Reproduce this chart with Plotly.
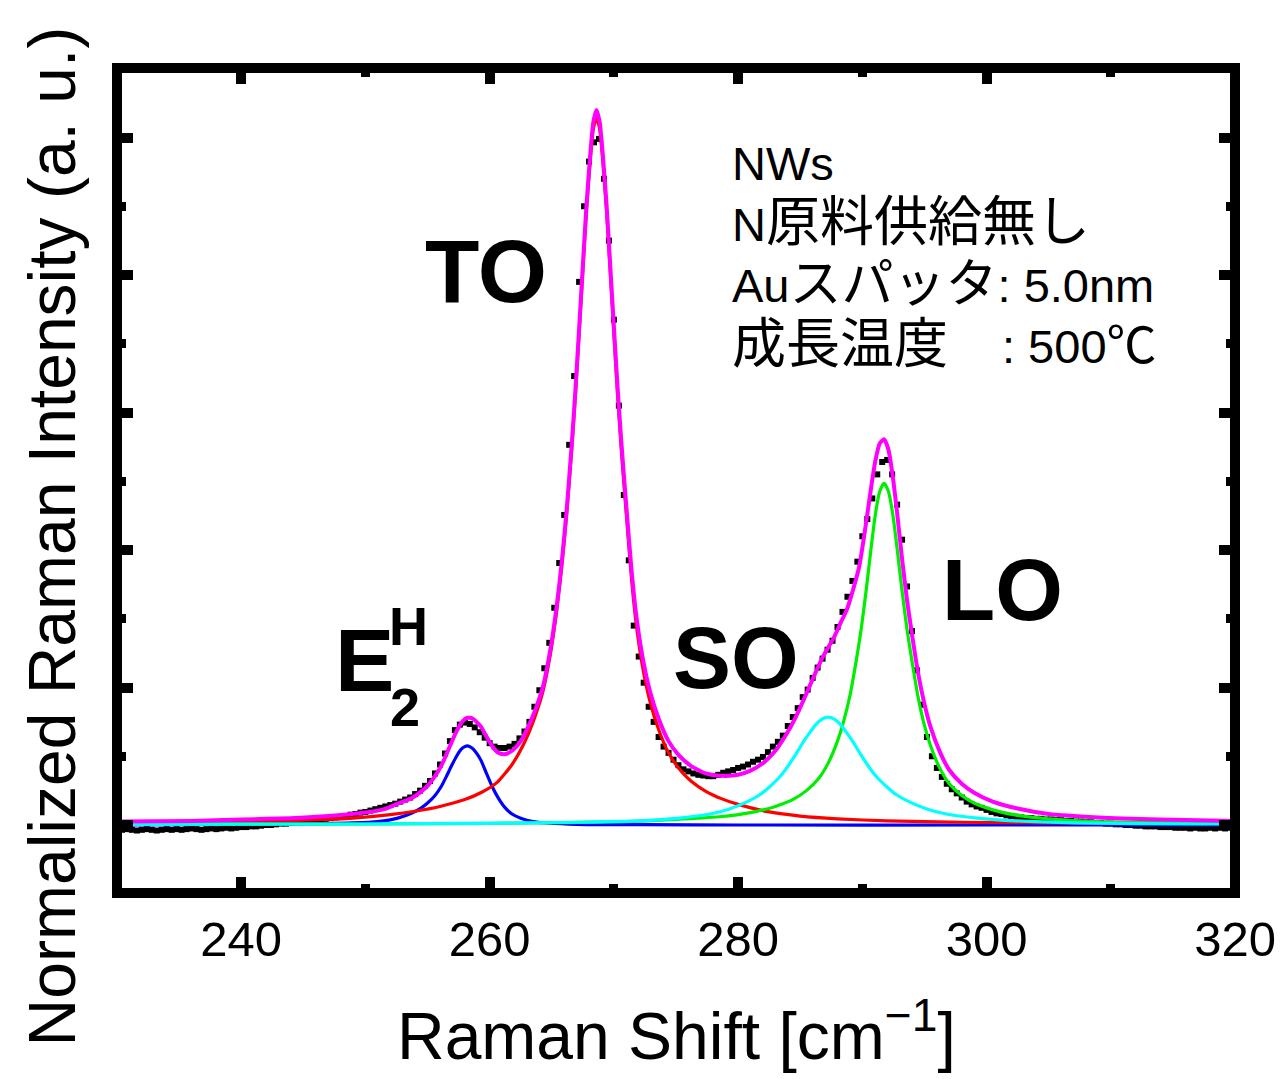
import plotly.graph_objects as go

# ---------------- measured spectrum (black squares) ----------------
SHIFT_START = 230.0
SHIFT_STEP = 0.4
INTENSITY = [
    -0.006, -0.007, -0.006, -0.007, -0.008, -0.007, -0.006, -0.007, -0.008, -0.007,  # 230.0
    -0.006, -0.007, -0.006, -0.007, -0.006, -0.005, -0.006, -0.007, -0.006, -0.005,  # 234.0
    -0.006, -0.005, -0.004, -0.005, -0.004, -0.003, -0.003, -0.002, -0.002, -0.001,  # 238.0
    0.000, 0.000, 0.001, 0.002, 0.002, 0.003, 0.004, 0.004, 0.005, 0.006,            # 242.0
    0.007, 0.008, 0.009, 0.010, 0.011, 0.012, 0.013, 0.015, 0.016, 0.018,            # 246.0
    0.019, 0.021, 0.023, 0.025, 0.027, 0.029, 0.031, 0.034, 0.037, 0.040,            # 250.0
    0.045, 0.050, 0.057, 0.064, 0.075, 0.088, 0.104, 0.122, 0.138, 0.146,            # 254.0
    0.149, 0.147, 0.142, 0.135, 0.127, 0.119, 0.114, 0.112, 0.112, 0.114,            # 258.0
    0.118, 0.126, 0.136, 0.150, 0.172, 0.196, 0.228, 0.265, 0.316, 0.381,            # 262.0
    0.451, 0.553, 0.653, 0.790, 0.900, 0.965, 0.993, 0.998, 0.940, 0.850,            # 266.0
    0.735, 0.610, 0.480, 0.385, 0.290, 0.245, 0.207, 0.172, 0.150, 0.128,            # 270.0
    0.114, 0.105, 0.095, 0.087, 0.081, 0.078, 0.075, 0.073, 0.072, 0.071,            # 274.0
    0.071, 0.073, 0.076, 0.078, 0.080, 0.083, 0.085, 0.088, 0.092, 0.095,            # 278.0
    0.099, 0.106, 0.114, 0.121, 0.130, 0.144, 0.157, 0.170, 0.186, 0.197,            # 282.0
    0.214, 0.229, 0.242, 0.255, 0.268, 0.288, 0.310, 0.332, 0.355, 0.383,            # 286.0
    0.420, 0.445, 0.475, 0.510, 0.528, 0.531, 0.510, 0.466, 0.415, 0.347,            # 290.0
    0.282, 0.225, 0.175, 0.128, 0.100, 0.083, 0.070, 0.060, 0.052, 0.046,            # 294.0
    0.040, 0.034, 0.030, 0.027, 0.025, 0.022, 0.019, 0.017, 0.016, 0.014,            # 298.0
    0.013, 0.012, 0.011, 0.010, 0.010, 0.009, 0.009, 0.008, 0.008, 0.007,            # 302.0
    0.007, 0.006, 0.006, 0.005, 0.005, 0.004, 0.004, 0.003, 0.003, 0.002,            # 306.0
    0.002, 0.001, 0.001, 0.000, 0.000, -0.001, -0.001, -0.002, -0.002, -0.002,       # 310.0
    -0.003, -0.003, -0.003, -0.004, -0.004, -0.004, -0.005, -0.004, -0.005, -0.005,  # 314.0
    -0.004, -0.005, -0.004, -0.005, -0.004, -0.004,                                  # 318.0
]
RAMAN_SHIFT = [round(SHIFT_START + SHIFT_STEP * i, 1) for i in range(len(INTENSITY))]

# ---------------- fitted components ----------------
E2H_X = [230, 240, 246, 249, 251, 252.6, 253.7, 254.5, 255.0, 255.6, 256.1, 256.5, 256.9, 257.3, 257.7,
         258.0, 258.2, 258.4, 258.7, 259.0, 259.3, 259.7, 260.2, 260.7, 261.2, 261.8, 262.5, 263.5,
         264.6, 267, 272, 280, 300, 320]
E2H_Y = [0.000, 0.001, 0.002, 0.003, 0.005, 0.010, 0.017, 0.025, 0.032, 0.043, 0.056, 0.070, 0.085,
         0.099, 0.110, 0.114, 0.115, 0.114, 0.110, 0.103, 0.094, 0.077, 0.056, 0.039, 0.026, 0.016,
         0.010, 0.005, 0.003, 0.001, 0.0005, 0.000, 0.000, 0.000]

TO_X = [230, 240, 245, 249, 252, 254, 256, 258, 259.4, 260.6, 261.8, 262.8, 263.6, 264.3, 264.9,
        265.4, 265.8, 266.2, 266.6, 266.9, 267.2, 267.5, 267.8, 268.1, 268.35, 268.6, 268.85, 269.1,
        269.4, 269.7, 270.0, 270.3, 270.6, 271.0, 271.4, 271.8, 272.3, 272.9, 273.6, 274.4, 275.2,
        276.2, 277.4, 278.7, 280, 282.5, 285, 288, 292, 298, 305, 320]
TO_Y = [0.0025, 0.0045, 0.007, 0.010, 0.015, 0.020, 0.027, 0.037, 0.048, 0.062, 0.088, 0.120, 0.155,
        0.195, 0.250, 0.312, 0.375, 0.452, 0.545, 0.625, 0.714, 0.806, 0.895, 0.967, 1.013, 1.028,
        1.013, 0.967, 0.895, 0.806, 0.714, 0.625, 0.545, 0.452, 0.362, 0.292, 0.231, 0.180, 0.139,
        0.105, 0.083, 0.064, 0.049, 0.038, 0.030, 0.019, 0.013, 0.009, 0.006, 0.004, 0.003, 0.002]

SO_X = [230, 250, 260, 267, 272, 275.25, 277.75, 279.25, 280.75, 281.75, 282.5, 283.25, 283.75,
        284.25, 284.75, 285.25, 285.75, 286.25, 286.75, 287.25, 287.75, 288.25, 288.75, 289.25,
        289.75, 290.25, 290.75, 291.25, 292.0, 292.75, 293.75, 295.25, 296.75, 299.25, 302.25,
        307.25, 317.25, 320]
SO_Y = [0.001, 0.0015, 0.0025, 0.004, 0.006, 0.010, 0.016, 0.023, 0.034, 0.044, 0.055, 0.068, 0.079,
        0.092, 0.106, 0.121, 0.134, 0.146, 0.154, 0.157, 0.154, 0.146, 0.134, 0.121, 0.106, 0.092,
        0.079, 0.068, 0.055, 0.044, 0.034, 0.023, 0.016, 0.010, 0.006, 0.003, 0.0015, 0.0015]

LO_X = [230, 250, 260, 266, 271, 275, 278.5, 281, 283, 284.5, 285.5, 286.5, 287.25, 288.0, 288.5,
        289.0, 289.5, 289.9, 290.3, 290.7, 291.05, 291.4, 291.75, 292.1, 292.45, 292.8, 293.2, 293.6,
        294.0, 294.5, 295.0, 295.5, 296.25, 297.0, 298.0, 299.0, 300.5, 302.5, 305.0, 309, 314, 320]
LO_Y = [0.001, 0.0015, 0.0025, 0.0035, 0.005, 0.008, 0.012, 0.018, 0.027, 0.038, 0.050, 0.068, 0.090,
        0.122, 0.151, 0.188, 0.238, 0.284, 0.340, 0.402, 0.452, 0.485, 0.497, 0.485, 0.452, 0.402,
        0.340, 0.284, 0.238, 0.185, 0.145, 0.115, 0.082, 0.060, 0.043, 0.032, 0.022, 0.014, 0.009,
        0.005, 0.0035, 0.003]

SUM_X = [230, 236, 240, 244, 247, 249.5, 251.5, 252.6, 253.7, 254.5, 255.0, 255.6, 256.1, 256.5,
         256.9, 257.3, 257.7, 258.0, 258.2, 258.4, 258.7, 259.0, 259.3, 259.7, 260.2, 260.7, 261.2,
         261.8, 262.5, 263.0, 263.6, 264.3, 264.9, 265.4, 265.8, 266.2, 266.6, 266.9, 267.2, 267.5,
         267.8, 268.1, 268.35, 268.6, 268.85, 269.1, 269.4, 269.7, 270.0, 270.3, 270.6, 271.0, 271.4,
         271.8, 272.3, 272.9, 273.6, 274.4, 275.2, 276.2, 277.4, 278.7, 280.0, 281.0, 282.0, 283.0,
         283.75, 284.5, 285.25, 286.0, 286.75, 287.25, 287.75, 288.25, 288.75, 289.25, 289.75, 290.25,
         290.7, 291.05, 291.4, 291.75, 292.1, 292.45, 292.8, 293.2, 293.6, 294.0, 294.5, 295.0, 295.5,
         296.25, 297.0, 298.0, 299.0, 300.5, 302.5, 305.0, 309, 314, 320]
SUM_Y = [0.005, 0.006, 0.008, 0.010, 0.013, 0.017, 0.023, 0.031, 0.039, 0.049, 0.057, 0.071, 0.086,
         0.102, 0.119, 0.135, 0.148, 0.154, 0.156, 0.156, 0.154, 0.149, 0.143, 0.130, 0.115, 0.105,
         0.103, 0.108, 0.122, 0.139, 0.164, 0.202, 0.257, 0.319, 0.382, 0.459, 0.552, 0.632, 0.722,
         0.814, 0.903, 0.976, 1.023, 1.040, 1.023, 0.977, 0.905, 0.816, 0.725, 0.636, 0.557, 0.464,
         0.375, 0.305, 0.245, 0.195, 0.155, 0.122, 0.102, 0.086, 0.075, 0.0715, 0.073, 0.079, 0.090,
         0.108, 0.128, 0.152, 0.181, 0.212, 0.242, 0.258, 0.274, 0.294, 0.313, 0.342, 0.376, 0.433,
         0.490, 0.530, 0.555, 0.561, 0.546, 0.507, 0.454, 0.387, 0.327, 0.277, 0.220, 0.176, 0.142,
         0.106, 0.080, 0.060, 0.047, 0.034, 0.024, 0.016, 0.011, 0.008, 0.006]

X_TICKS = [240, 260, 280, 300, 320]

LATIN = "Liberation Sans, Arial, sans-serif"
MIXED = "Liberation Sans, Noto Sans CJK JP, sans-serif"

def cjk(s, size=54):
    return '<span style="font-family:Noto Sans CJK JP;font-size:%dpx">%s</span>' % (size, s)

INFO_LINES = [
    "NWs",
    "N" + cjk("原料供給無し"),
    "Au" + cjk("スパッタ", 52) + ": 5.0nm",
    cjk("成長温度\u3000") + ": 500" + cjk("℃", 50),
]

fig = go.Figure()
fig.add_trace(go.Scatter(x=RAMAN_SHIFT, y=INTENSITY, mode="markers",
                         marker=dict(symbol="square", size=6, color="black", line=dict(width=0))))
for xs, ys, col, w in [(E2H_X, E2H_Y, "#0000FF", 3.2), (TO_X, TO_Y, "#FF0000", 3.2),
                       (LO_X, LO_Y, "#00EE00", 3.2), (SO_X, SO_Y, "#00FFFF", 3.2),
                       (SUM_X, SUM_Y, "#FF00FF", 4)]:
    fig.add_trace(go.Scatter(x=xs, y=ys, mode="lines",
                             line=dict(color=col, width=w, shape="spline", smoothing=0.6)))

axis_common = dict(showline=False, mirror="ticks",
                   ticks="inside", ticklen=16, tickwidth=10, tickcolor="black",
                   showgrid=False, zeroline=False)
fig.update_xaxes(range=[230, 320], tickvals=X_TICKS, ticktext=[str(v) for v in X_TICKS],
                 minor=dict(dtick=10, tick0=0, ticks="inside", ticklen=9, tickwidth=9, tickcolor="black"),
                 tickfont=dict(family=LATIN, size=49, color="black"), ticklabelstandoff=13,
                 **axis_common)
fig.update_yaxes(range=[-0.0989, 1.1011], dtick=0.2, tick0=0, showticklabels=False,
                 minor=dict(dtick=0.1, tick0=0, ticks="inside", ticklen=9, tickwidth=9, tickcolor="black"),
                 **axis_common)

ann = []
def peak_label(text, x, y, size):
    ann.append(dict(text="<b>%s</b>" % text, x=x, y=y, xref="x", yref="y", showarrow=False,
                    xanchor="center", yanchor="middle",
                    font=dict(family=LATIN, size=size, color="black")))

peak_label("TO", 259.7, 0.806, 89)
peak_label("SO", 279.8, 0.243, 87)
peak_label("LO", 301.3, 0.343, 87)
peak_label("E", 249.9, 0.240, 89)
peak_label("H", 253.5, 0.290, 54)
peak_label("2", 253.2, 0.172, 54)

ann.append(dict(text="<br>".join(INFO_LINES), x=0.5484, y=0.7697, xref="paper", yref="paper",
                showarrow=False, xanchor="left", yanchor="middle", align="left",
                font=dict(family=MIXED, size=47, color="black")))

ann.append(dict(text="Raman Shift [cm<sup>\u22121</sup>]", x=0.5004, y=-0.1673, xref="paper",
                yref="paper", showarrow=False, xanchor="center", yanchor="middle",
                font=dict(family=LATIN, size=66, color="black")))
ann.append(dict(text="Normalized Raman Intensity (a. u.)", x=-0.0578, y=0.4327, xref="paper",
                yref="paper", showarrow=False, xanchor="center", yanchor="middle", textangle=-90,
                font=dict(family=LATIN, size=66, color="black")))

# frame drawn centred on the plot-area edges
shapes = [dict(type="rect", xref="paper", yref="paper", x0=0, x1=1, y0=0, y1=1,
               line=dict(color="black", width=10), layer="above")]

# page body has an 8 px margin, so the figure is 8 px smaller and offset
fig.update_layout(width=1280, height=1071, margin=dict(l=109, r=46, t=60, b=186),
                  plot_bgcolor="white", paper_bgcolor="white", showlegend=False,
                  annotations=ann, shapes=shapes)

fig.write_html("out.html")
